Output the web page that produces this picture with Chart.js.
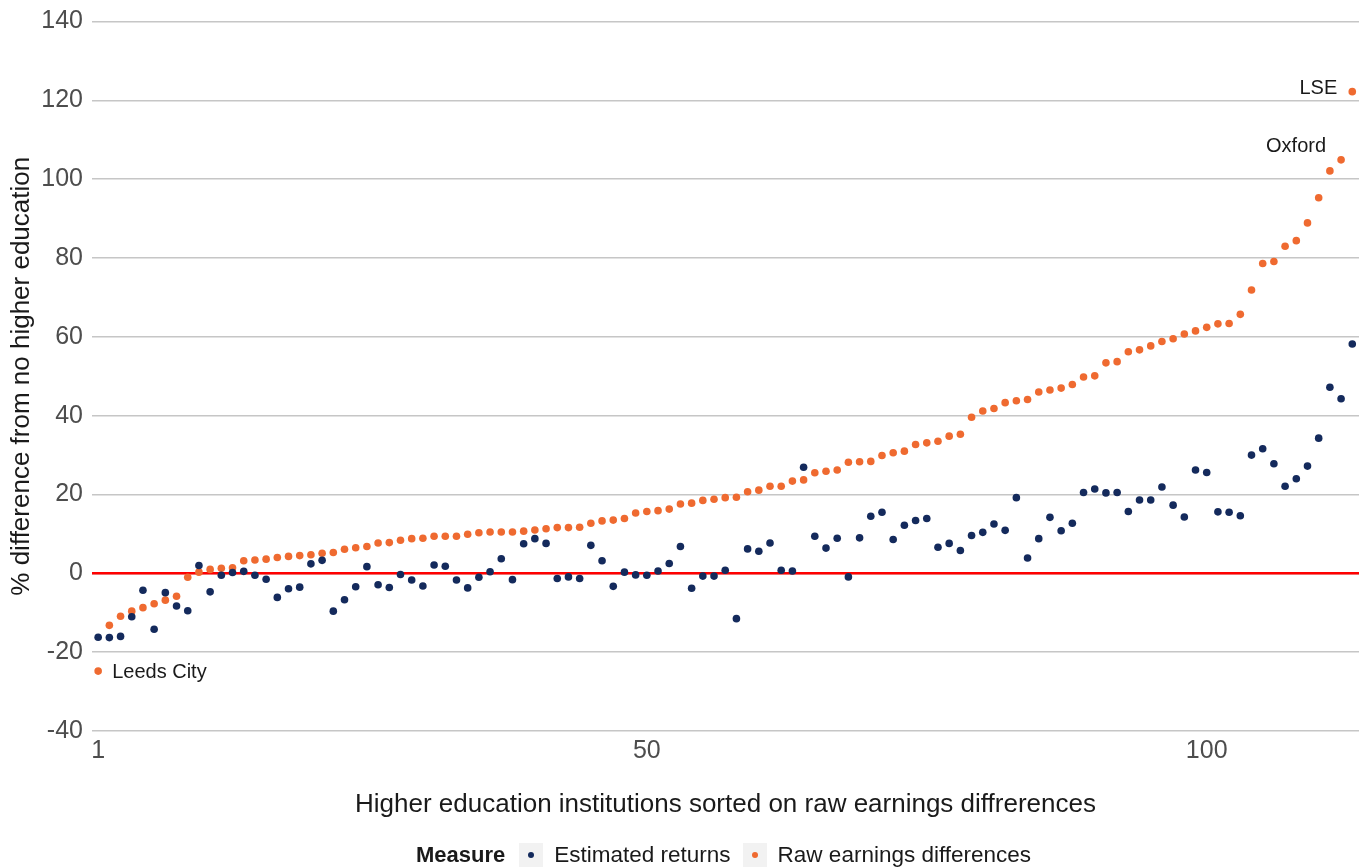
<!DOCTYPE html>
<html>
<head>
<meta charset="utf-8">
<script src="https://cdn.jsdelivr.net/npm/chart.js@4.4.1/dist/chart.umd.min.js"></script>
<style>
  body { margin:0; background:#fff; font-family:"Liberation Sans", Arial, sans-serif; }
  #wrap { position:relative; width:1370px; height:868px; }
  #legend { position:absolute; left:416px; top:843px; height:24px; display:flex; align-items:center; color:#1a1a1a; font-size:22.5px; white-space:nowrap; }
  #legend .ttl { font-weight:bold; font-size:22px; margin-right:14px; }
  #legend .key { width:24px; height:24px; background:#f2f2f2; display:flex; align-items:center; justify-content:center; margin-right:11px; }
  #legend .key span { width:6px; height:6px; border-radius:50%; display:block; }
  #legend .txt { margin-right:12px; }
</style>
</head>
<body>
<div id="wrap">
  <canvas id="chart" width="1370" height="868"></canvas>
  <div id="legend"></div>
</div>
<script>
// ============================================================
// DATA
// ============================================================

// estimated returns, in institution order (sorted on raw differences)
const estReturns = [
  -16.2, -16.3, -16.0, -11.0, -4.3, -14.2, -4.9, -8.3, -9.5, 2.0,
  -4.7, -0.5, 0.2, 0.5, -0.5, -1.5, -6.1, -3.9, -3.5, 2.4,
  3.3, -9.6, -6.7, -3.4, 1.7, -2.9, -3.6, -0.3, -1.7, -3.2,
  2.1, 1.8, -1.7, -3.7, -1.0, 0.4, 3.7, -1.6, 7.5, 8.8,
  7.6, -1.3, -0.9, -1.3, 7.1, 3.2, -3.3, 0.3, -0.4, -0.5,
  0.6, 2.5, 6.8, -3.8, -0.7, -0.7, 0.8, -11.5, 6.2, 5.6,
  7.7, 0.8, 0.6, 26.9, 9.4, 6.4, 8.9, -0.9, 9.0, 14.5,
  15.5, 8.6, 12.2, 13.4, 13.9, 6.6, 7.6, 5.8, 9.6, 10.4,
  12.5, 10.9, 19.2, 3.9, 8.8, 14.2, 10.8, 12.7, 20.5, 21.4,
  20.4, 20.5, 15.7, 18.6, 18.6, 21.9, 17.3, 14.3, 26.2, 25.6,
  15.6, 15.5, 14.6, 30.0, 31.6, 27.8, 22.1, 24.0, 27.2, 34.3,
  47.2, 44.3, 58.2
];

// raw earnings differences
const rawDiff = [
  -24.8, -13.2, -10.9, -9.6, -8.7, -7.7, -6.8, -5.8, -1.0, 0.3,
  1.0, 1.3, 1.4, 3.2, 3.4, 3.6, 4.0, 4.3, 4.5, 4.7,
  5.1, 5.3, 6.1, 6.5, 6.8, 7.7, 7.8, 8.4, 8.8, 8.9,
  9.4, 9.4, 9.4, 9.9, 10.3, 10.5, 10.5, 10.5, 10.7, 11.0,
  11.3, 11.6, 11.6, 11.7, 12.7, 13.3, 13.5, 13.9, 15.3, 15.7,
  15.9, 16.3, 17.6, 17.8, 18.5, 18.8, 19.2, 19.3, 20.7, 21.1,
  22.1, 22.1, 23.4, 23.7, 25.5, 25.9, 26.2, 28.2, 28.3, 28.4,
  29.9, 30.6, 31.0, 32.7, 33.1, 33.5, 34.8, 35.3, 39.6, 41.2,
  41.8, 43.3, 43.8, 44.1, 46.0, 46.5, 47.0, 47.9, 49.8, 50.1,
  53.4, 53.7, 56.2, 56.7, 57.7, 58.8, 59.5, 60.7, 61.5, 62.4,
  63.3, 63.4, 65.7, 71.9, 78.6, 79.1, 83.0, 84.4, 88.9, 95.3,
  102.1, 104.9, 122.2
];

const seriesNames = ['Estimated returns', 'Raw earnings differences'];
const xTicks = [1, 50, 100];
const yTicks = [-40, -20, 0, 20, 40, 60, 80, 100, 120, 140];

// labelled institutions (position in the sorted list)
const labelNames = ['Leeds City', 'Oxford', 'LSE'];
const labelIdx = [1, 112, 113];

// ============================================================
// STYLE
// ============================================================
const NAVY = '#142a5c', ORANGE = '#ef6a30';
const FONT = '"Liberation Sans", Arial, sans-serif';
const labelOffsets = [[14, 1, 'left'], [-15, -13, 'right'], [-15, -3, 'right']];

// ============================================================
// CHART
// ============================================================
const idx = rawDiff.map((_, i) => i + 1);

const zeroLine = {
  id: 'zeroLine',
  beforeDatasetsDraw(chart) {
    const { ctx, chartArea, scales } = chart;
    const y0 = scales.y.getPixelForValue(0);
    ctx.save();
    ctx.strokeStyle = '#ff0000';
    ctx.lineWidth = 2.5;
    ctx.beginPath();
    ctx.moveTo(chartArea.left, y0);
    ctx.lineTo(chartArea.right, y0);
    ctx.stroke();
    ctx.restore();
  }
};

const pointLabels = {
  id: 'pointLabels',
  afterDatasetsDraw(chart) {
    const { ctx, scales } = chart;
    ctx.save();
    ctx.font = '20px ' + FONT;
    ctx.fillStyle = '#1a1a1a';
    ctx.textBaseline = 'middle';
    labelNames.forEach((name, k) => {
      const i = labelIdx[k];
      const [dx, dy, al] = labelOffsets[k];
      ctx.textAlign = al;
      ctx.fillText(name, scales.x.getPixelForValue(i) + dx, scales.y.getPixelForValue(rawDiff[i - 1]) + dy);
    });
    ctx.restore();
  }
};

new Chart(document.getElementById('chart').getContext('2d'), {
  type: 'scatter',
  data: {
    datasets: [
      { label: seriesNames[0], data: idx.map(i => ({ x: i, y: estReturns[i - 1] })), backgroundColor: NAVY, borderWidth: 0, pointRadius: 3.8, pointHoverRadius: 3.8 },
      { label: seriesNames[1], data: idx.map(i => ({ x: i, y: rawDiff[i - 1] })), backgroundColor: ORANGE, borderWidth: 0, pointRadius: 3.8, pointHoverRadius: 3.8 }
    ]
  },
  options: {
    responsive: false,
    animation: false,
    layout: { padding: { top: 20, right: 11, bottom: 48, left: 0 } },
    plugins: { legend: { display: false }, tooltip: { enabled: false } },
    scales: {
      x: {
        type: 'linear', min: 0.45, max: 113.6,
        afterBuildTicks: s => { s.ticks = xTicks.map(v => ({ value: v })); },
        afterFit: s => { s.height = 89; },
        grid: { display: false, drawTicks: false },
        border: { display: false },
        ticks: { padding: 8, color: '#4d4d4d', font: { family: FONT, size: 25, lineHeight: 1 }, maxRotation: 0 },
        title: { display: true, text: 'Higher education institutions sorted on raw earnings diffrerences', color: '#1a1a1a', font: { family: FONT, size: 26 }, padding: { top: 0, bottom: 0 } }
      },
      y: {
        min: -40, max: 140,
        afterBuildTicks: s => { s.ticks = yTicks.map(v => ({ value: v })); },
        afterFit: s => { s.width = 92; },
        grid: { color: '#c6c6c6', lineWidth: 1.6, drawTicks: false },
        border: { display: false },
        ticks: { padding: 9, color: '#4d4d4d', font: { family: FONT, size: 25, lineHeight: 1 } },
        title: { display: true, text: '% difference from no higher education', color: '#1a1a1a', font: { family: FONT, size: 26 }, padding: { top: 6, bottom: 0 } }
      }
    }
  },
  plugins: [zeroLine, pointLabels]
});

// legend (html)
const lg = document.getElementById('legend');
lg.innerHTML = '<span class="ttl">Measure</span>' + seriesNames.map((n, k) =>
  `<span class="key"><span style="background:${k ? ORANGE : NAVY}"></span></span><span class="txt">${n}</span>`).join('');
</script>
</body>
</html>
